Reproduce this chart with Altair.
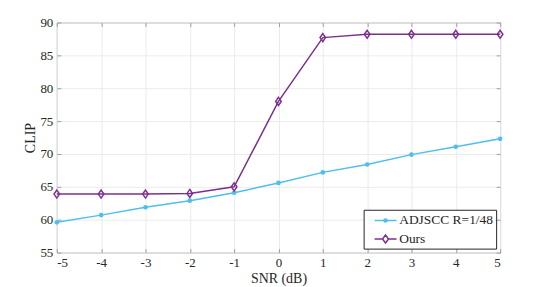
import altair as alt
import pandas as pd

snr = [-5, -4, -3, -2, -1, 0, 1, 2, 3, 4, 5]
adjscc = [59.6, 60.7, 61.9, 62.9, 64.1, 65.6, 67.2, 68.4, 69.9, 71.1, 72.3]
ours = [63.9, 63.9, 63.9, 64.0, 65.0, 78.0, 87.7, 88.2, 88.2, 88.2, 88.2]
series = ["ADJSCC R=1/48", "Ours"]
x_ticks = [-5, -4, -3, -2, -1, 0, 1, 2, 3, 4, 5]
y_ticks = [55, 60, 65, 70, 75, 80, 85, 90]

BLUE = "#4DBEEE"
PURPLE = "#7E2F8E"
FONT = "Liberation Serif, Times New Roman, serif"
TXT = "#262626"

df = pd.DataFrame(
    {"snr": snr * 2, "clip": adjscc + ours, "series": [series[0]] * len(snr) + [series[1]] * len(snr)}
)

xs = alt.Scale(domain=[-5, 5], nice=False, zero=False)
ys = alt.Scale(domain=[55, 90], nice=False, zero=False)

label_x = alt.Axis(orient="bottom", values=x_ticks, grid=True, gridColor="#ebebeb", tickSize=0,
                   domain=False, labelPadding=4, title="SNR (dB)", titlePadding=2,
                   labelExpr="datum.value + ''",
                   labelFont=FONT, labelFontSize=13, labelColor=TXT, titleFont=FONT,
                   titleFontSize=14, titleFontWeight="normal", titleColor=TXT)
label_y = alt.Axis(orient="left", values=y_ticks, grid=True, gridColor="#ebebeb", tickSize=0,
                   domain=False, labelPadding=4, title="CLIP", titlePadding=2,
                   labelFont=FONT, labelFontSize=13, labelColor=TXT, titleFont=FONT,
                   titleFontSize=14, titleFontWeight="normal", titleColor=TXT)


def tick_axis(orient, vals):
    return alt.Axis(orient=orient, values=vals, grid=False, labels=False, domain=False,
                    tickSize=4, offset=-4, tickColor="#a0a0a0", title=None)


base = alt.Chart(df)

l1 = base.transform_filter(alt.datum.series == series[0]).mark_line(strokeWidth=1.5, color=BLUE).encode(
    x=alt.X("snr:Q", scale=xs, axis=label_x),
    y=alt.Y("clip:Q", scale=ys, axis=label_y),
)
l2 = base.transform_filter(alt.datum.series == series[1]).mark_line(strokeWidth=1.5, color=PURPLE).encode(
    x=alt.X("snr:Q", scale=xs, axis=tick_axis("top", x_ticks)),
    y=alt.Y("clip:Q", scale=ys, axis=tick_axis("right", y_ticks)),
)
p1 = base.transform_filter(alt.datum.series == series[0]).mark_point(
    filled=True, shape="circle", size=22, color=BLUE, opacity=1).encode(
    x=alt.X("snr:Q", scale=xs, axis=tick_axis("bottom", x_ticks)),
    y=alt.Y("clip:Q", scale=ys, axis=tick_axis("left", y_ticks)),
)
p2 = base.transform_filter(alt.datum.series == series[1]).mark_point(
    filled=False, shape="M0,-1L0.7,0L0,1L-0.7,0Z", size=64, color=PURPLE, strokeWidth=1.5, opacity=1).encode(
    x=alt.X("snr:Q", scale=xs, axis=None),
    y=alt.Y("clip:Q", scale=ys, axis=None),
)
leg_color = alt.Color("series:N", scale=alt.Scale(domain=series, range=[BLUE, PURPLE]),
                      legend=alt.Legend(title=None, orient="bottom-right", offset=4))
leg_shape = alt.Shape("series:N", scale=alt.Scale(
    domain=series,
    range=["M0.04,0H3.19M1.83,0A0.22,0.22 0 1,1 1.39,0A0.22,0.22 0 1,1 1.83,0Z",
           "M0.04,0H1.18M2.04,0H3.19M1.61,-0.57L2.04,0L1.61,0.57L1.18,0Z"]),
    legend=alt.Legend(title=None, orient="bottom-right", offset=4))
leg = base.transform_filter("false").mark_point(filled=False, strokeWidth=1.5, opacity=1).encode(
    x=alt.X("snr:Q", scale=xs, axis=None),
    y=alt.Y("clip:Q", scale=ys, axis=None),
    color=leg_color,
    shape=leg_shape,
)

chart = alt.layer(l1, l2, p1, p2, leg).resolve_axis(x="independent", y="independent").properties(
    width=445, height=231,
    autosize=alt.AutoSizeParams(type="none"),
    padding={"left": 49, "top": 14, "right": 30, "bottom": 34},
).configure_view(stroke="#a0a0a0", strokeWidth=1).configure_legend(
    labelFont=FONT, labelFontSize=13.5, labelColor=TXT, symbolSize=196, symbolStrokeWidth=1.5,
    strokeColor="#262626", fillColor="white", padding=2.7, rowPadding=3.6, labelOffset=17,
    symbolOpacity=1,
)

chart.save("out.html", embed_options={"renderer": "svg", "actions": False})
